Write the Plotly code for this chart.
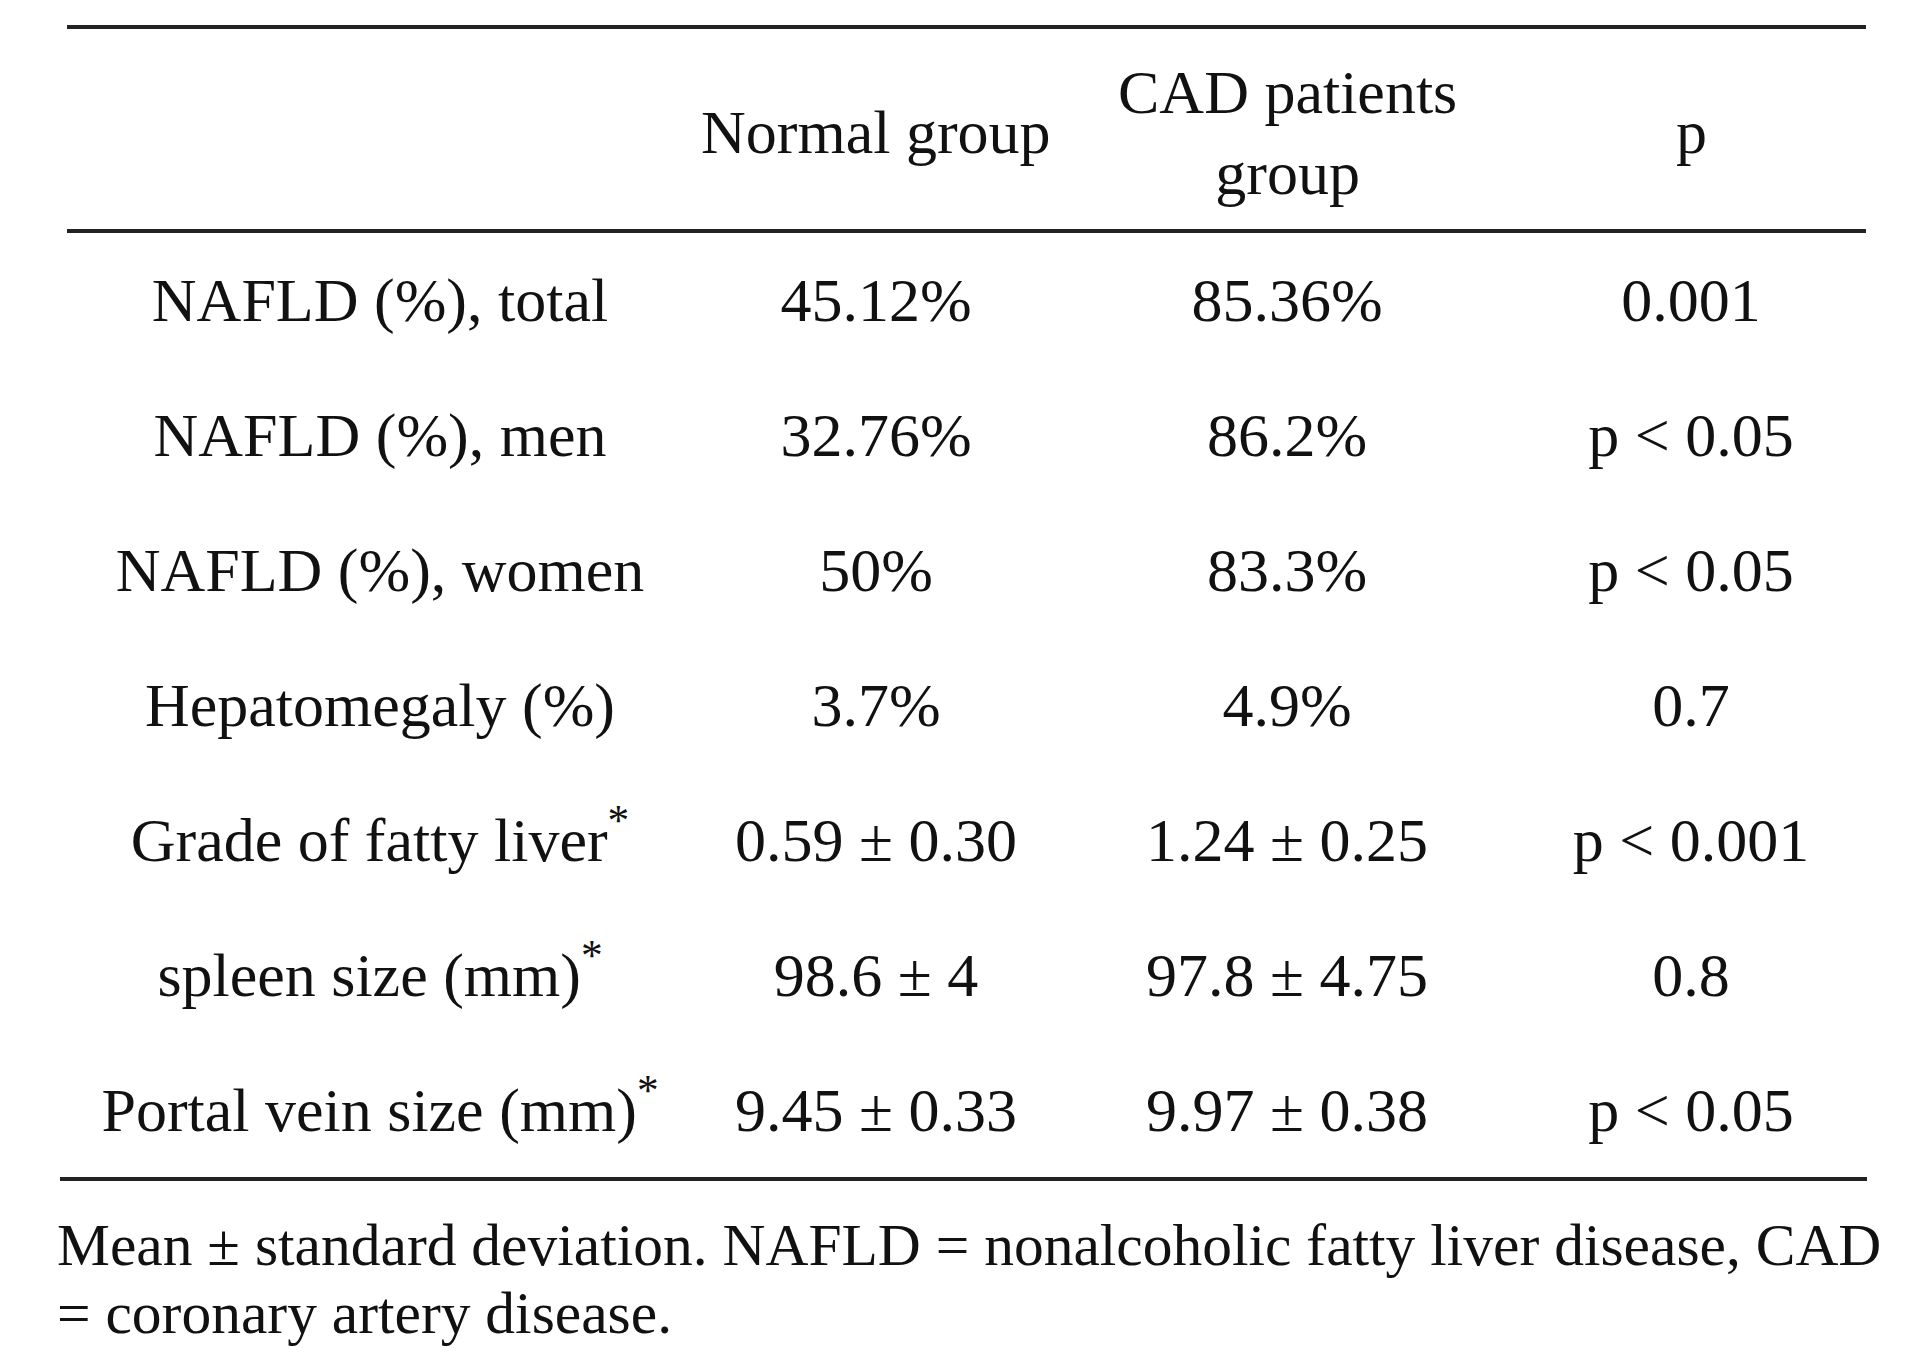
import plotly.graph_objects as go

W, H = 1915, 1360
PAGE_PAD = 8  # default body margin of the html page
FONT = "Liberation Serif, Times New Roman, serif"
INK = "#111111"

# table content
row_labels = [
    "NAFLD (%), total",
    "NAFLD (%), men",
    "NAFLD (%), women",
    "Hepatomegaly (%)",
    "Grade of fatty liver<sup>*</sup>",
    "spleen size (mm)<sup>*</sup>",
    "Portal vein size (mm)<sup>*</sup>",
]
normal_group = ["45.12%", "32.76%", "50%", "3.7%", "0.59 ± 0.30", "98.6 ± 4", "9.45 ± 0.33"]
cad_group = ["85.36%", "86.2%", "83.3%", "4.9%", "1.24 ± 0.25", "97.8 ± 4.75", "9.97 ± 0.38"]
p_values = ["0.001", "p < 0.05", "p < 0.05", "0.7", "p < 0.001", "0.8", "p < 0.05"]
headers = ["", "Normal group", "CAD patients<br>group", "p"]
footnote = [
    "Mean ± standard deviation. NAFLD = nonalcoholic fatty liver disease, CAD",
    "= coronary artery disease.",
]

columns = [row_labels, normal_group, cad_group, p_values]
# horizontal span of each column in pixels (screen coords)
col_spans = [(59, 701), (701, 1051), (1051, 1523), (1523, 1859)]
body_top, body_bottom = 238, 1183


def px_x(v):
    return (v - PAGE_PAD) / W


def px_y(v):
    return 1 - (v - PAGE_PAD) / H


fig = go.Figure()
for i, (vals, span) in enumerate(zip(columns, col_spans)):
    ax = "" if i == 0 else str(i + 1)
    fig.add_trace(go.Scatter(
        x=["c"] * len(vals), y=row_labels, text=vals,
        mode="text", textposition="middle center",
        textfont=dict(family=FONT, size=62, color=INK),
        xaxis="x" + ax, yaxis="y", cliponaxis=False, hoverinfo="skip",
    ))
    fig.update_layout({
        "xaxis" + ax: dict(domain=[px_x(span[0]), px_x(span[1])], type="category",
                           range=[-0.5, 0.5], visible=False, anchor="y"),
    })
    if headers[i]:
        fig.add_annotation(text=headers[i], xref="x" + ax + " domain", x=0.5,
                           yref="paper", y=px_y(132), showarrow=False,
                           xanchor="center", yanchor="middle",
                           font=dict(family=FONT, size=62, color=INK))

fig.update_layout(yaxis=dict(type="category", categoryarray=row_labels,
                             range=[len(row_labels) - 0.5, -0.5],
                             domain=[px_y(body_bottom), px_y(body_top)], visible=False))

# rules
for y0, xa, xb in [(27, 67, 1866), (231, 67, 1866), (1179, 60, 1867)]:
    fig.add_shape(type="line", xref="paper", yref="paper",
                  x0=px_x(xa), x1=px_x(xb), y0=px_y(y0), y1=px_y(y0),
                  line=dict(color="#222222", width=4))

for line, yy in zip(footnote, [1245, 1313]):
    fig.add_annotation(text=line, xref="paper", x=px_x(55), yref="paper", y=px_y(yy),
                       showarrow=False, xanchor="left", yanchor="middle",
                       font=dict(family=FONT, size=59.5, color=INK))

fig.update_layout(width=W, height=H, margin=dict(l=0, r=0, t=0, b=0),
                  plot_bgcolor="white", paper_bgcolor="white", showlegend=False)

fig.write_html("out.html")
